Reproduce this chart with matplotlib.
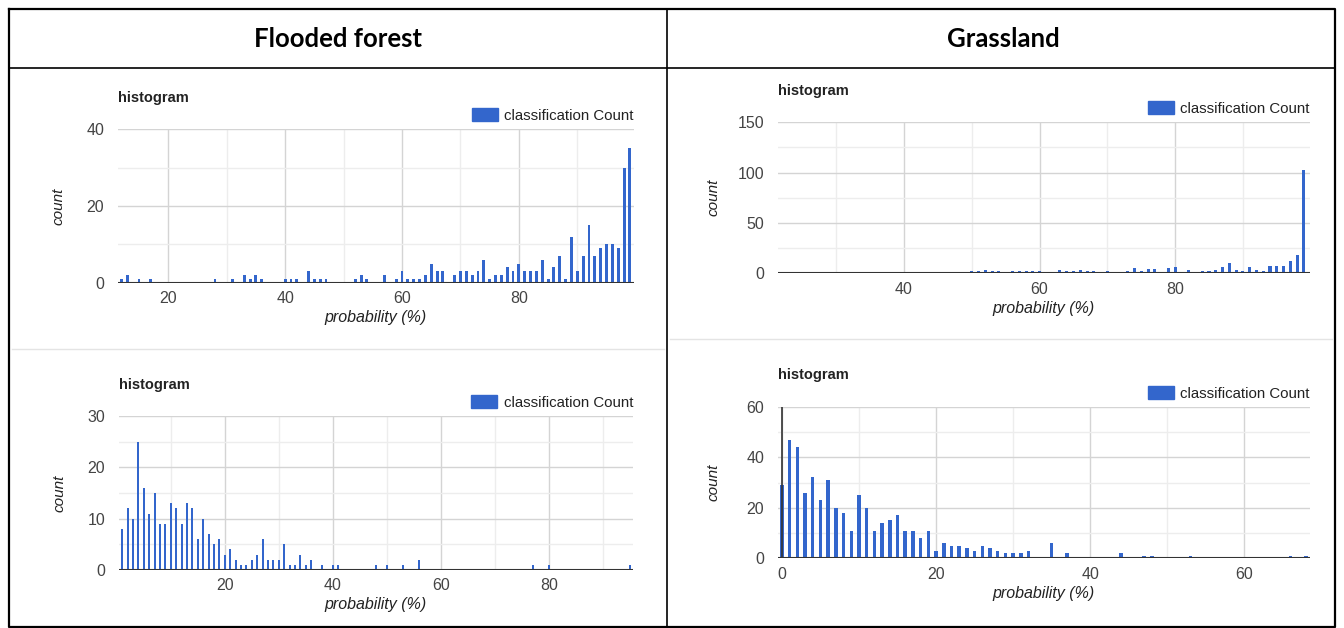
import matplotlib.pyplot as plt
from matplotlib.patches import Patch

# Flooded forest, top histogram
ff_top_prob = [12, 13, 15, 17, 28, 31, 33, 34, 35, 36, 40, 41, 42, 44, 45, 46, 47,
               52, 53, 54, 57, 59, 60, 61, 62, 63, 64, 65, 66, 67, 69, 70, 71, 72,
               73, 74, 75, 76, 77, 78, 79, 80, 81, 82, 83, 84, 85, 86, 87, 88, 89,
               90, 91, 92, 93, 94, 95, 96, 97, 98, 99]
ff_top_count = [1, 2, 1, 1, 1, 1, 2, 1, 2, 1, 1, 1, 1, 3, 1, 1, 1,
                1, 2, 1, 2, 1, 3, 1, 1, 1, 2, 5, 3, 3, 2, 3, 3, 2,
                3, 6, 1, 2, 2, 4, 3, 5, 3, 3, 3, 6, 1, 4, 7, 1, 12,
                3, 7, 15, 7, 9, 10, 10, 9, 30, 35]

# Grassland, top histogram
gr_top_prob = [35, 37, 49, 50, 51, 52, 53, 54, 56, 57, 58, 59, 60, 61, 63, 64, 65,
               66, 67, 68, 70, 71, 73, 74, 75, 76, 77, 79, 80, 81, 82, 83, 84, 85,
               86, 87, 88, 89, 90, 91, 92, 93, 94, 95, 96, 97, 98, 99]
gr_top_count = [1, 1, 1, 2, 2, 3, 2, 2, 2, 2, 2, 2, 2, 1, 3, 2, 2,
                3, 2, 2, 2, 1, 2, 5, 2, 4, 4, 5, 6, 1, 3, 1, 2, 2,
                3, 6, 10, 3, 2, 6, 3, 2, 7, 7, 7, 12, 18, 103]

# Flooded forest, bottom histogram
ff_bot_prob = [1, 2, 3, 4, 5, 6, 7, 8, 9, 10, 11, 12, 13, 14, 15, 16, 17, 18, 19,
               20, 21, 22, 23, 24, 25, 26, 27, 28, 29, 30, 31, 32, 33, 34, 35, 36,
               38, 40, 41, 48, 50, 53, 56, 77, 80, 95]
ff_bot_count = [8, 12, 10, 25, 16, 11, 15, 9, 9, 13, 12, 9, 13, 12, 6, 10, 7, 5, 6,
                3, 4, 2, 1, 1, 2, 3, 6, 2, 2, 2, 5, 1, 1, 3, 1, 2,
                1, 1, 1, 1, 1, 1, 2, 1, 1, 1]

# Grassland, bottom histogram
gr_bot_prob = [0, 1, 2, 3, 4, 5, 6, 7, 8, 9, 10, 11, 12, 13, 14, 15, 16, 17, 18, 19,
               20, 21, 22, 23, 24, 25, 26, 27, 28, 29, 30, 31, 32, 35, 37, 44, 47,
               48, 53, 66, 68]
gr_bot_count = [29, 47, 44, 26, 32, 23, 31, 20, 18, 11, 25, 20, 11, 14, 15, 17, 11, 11,
                8, 11, 3, 6, 5, 5, 4, 3, 5, 4, 3, 2, 2, 2, 3, 6, 2, 2, 1,
                1, 1, 1, 1]

column_titles = ["Flooded forest", "Grassland"]

W, H = 1344, 628
BLUE = "#3366cc"
TXT = "Liberation Sans"

fig = plt.figure(figsize=(W / 100, H / 100), dpi=100)

# table frame drawn in pixel space
bg = fig.add_axes([0, 0, 1, 1], zorder=-1)
bg.set_xlim(0, W)
bg.set_ylim(H, 0)
bg.axis("off")
bg.plot([9, 1335, 1335, 9, 9], [9, 9, 627, 627, 9], color="black", lw=1.6)
bg.plot([9, 1335], [68, 68], color="black", lw=1.2)
bg.plot([667, 667], [9, 627], color="black", lw=1.2)
bg.plot([12, 664], [349, 349], color="#e4e4e4", lw=1)
bg.plot([670, 1332], [339, 339], color="#e4e4e4", lw=1)
bg.text(338, 39, column_titles[0], ha="center", va="center",
        fontsize=18.5, fontweight="bold", family="Lato")
bg.text(1003, 39, column_titles[1], ha="center", va="center",
        fontsize=18.5, fontweight="bold", family="Lato")


def panel(box, prob, count, xlim, ylim, ymaj, ymin, width, ylab_off,
          zero_line=False):
    left, top, right, bottom = box
    ax = fig.add_axes([left / W, 1 - bottom / H, (right - left) / W, (bottom - top) / H])
    ax.bar(prob, count, width=width, color=BLUE, zorder=3)
    ax.set_xlim(*xlim)
    ax.set_ylim(*ylim)

    xmaj = [v for v in range(0, 101, 20) if xlim[0] < v <= xlim[1]]
    xmin = [v for v in range(10, 101, 20) if xlim[0] < v <= xlim[1]]
    ax.set_xticks(xmaj)
    ax.set_xticks(xmin, minor=True)
    ax.set_yticks(ymaj)
    ax.set_yticks(ymin, minor=True)
    ax.grid(which="major", color="#d4d4d4", lw=1, zorder=0)
    ax.grid(which="minor", color="#ededed", lw=1, zorder=0)
    ax.tick_params(which="both", length=0, labelsize=11.5, labelcolor="#444444")
    ax.tick_params(axis="x", pad=6)
    ax.tick_params(axis="y", pad=10)
    for lab in ax.get_xticklabels() + ax.get_yticklabels():
        lab.set_family(TXT)
    for s in ax.spines.values():
        s.set_visible(False)
    ax.axhline(0, color="#333333", lw=1.5, zorder=4)
    if zero_line:
        ax.axvline(0, color="#333333", lw=1.2, zorder=4)

    ax.set_xlabel("probability (%)", fontsize=11.5, style="italic", family=TXT,
                  color="#222222", labelpad=3)
    ax.set_ylabel("count", fontsize=11, style="italic", family=TXT,
                  color="#222222")
    ax.yaxis.set_label_coords(-ylab_off / (right - left), 0.5)

    ax.annotate("histogram", xy=(0, 1), xycoords="axes fraction",
                xytext=(0, 22.5), textcoords="offset points", ha="left",
                va="center", fontsize=10.5, fontweight="bold", family=TXT,
                color="#222222")
    leg = ax.legend(handles=[Patch(color=BLUE, label="classification Count")],
                    loc="center right", bbox_to_anchor=(1.0, 1 + 13.5 / (bottom - top)),
                    frameon=False, handlelength=1.7, handleheight=0.95,
                    handletextpad=0.45, borderaxespad=0, borderpad=0,
                    prop={"family": TXT, "size": 10.8})
    for t in leg.get_texts():
        t.set_color("#222222")
    return ax


panel((118, 129.3, 634, 282.7), ff_top_prob, ff_top_count, (11.4, 99.7), (0, 40),
      [0, 20, 40], [10, 30], 0.5, 52)
panel((778, 122.3, 1310, 273.3), gr_top_prob, gr_top_count, (21.4, 99.9), (0, 150),
      [0, 50, 100, 150], [25, 75, 125], 0.45, 58)
panel((119, 416, 633, 570), ff_bot_prob, ff_bot_count, (0.4, 95.6), (0, 30),
      [0, 10, 20, 30], [5, 15, 25], 0.38, 53)
panel((778, 406.7, 1310, 558.3), gr_bot_prob, gr_bot_count, (-0.5, 68.5), (0, 60),
      [0, 20, 40, 60], [10, 30, 50], 0.45, 58, zero_line=True)

fig.savefig("out.png", dpi=100)
